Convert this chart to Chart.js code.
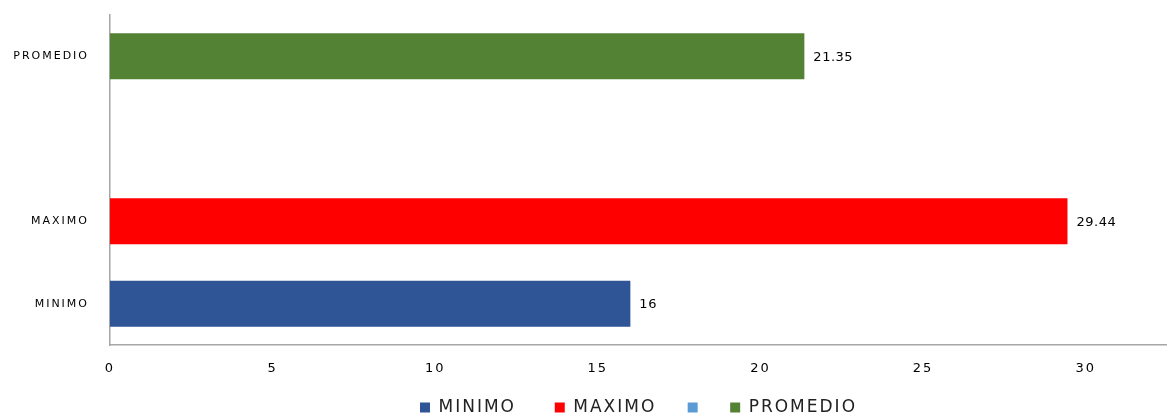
<!DOCTYPE html>
<html>
<head>
<meta charset="utf-8">
<script src="https://cdn.jsdelivr.net/npm/chart.js@4"></script>
<style>
  html, body { margin: 0; padding: 0; background: #fff; }
  #wrap { width: 1167px; height: 417px; }
</style>
</head>
<body>
<div id="wrap"><canvas id="grafico" width="1167" height="417"></canvas></div>
<script>
// categorias (de abajo hacia arriba) y series
const categorias = ['MINIMO', 'MAXIMO', '', 'PROMEDIO'];
const series = ['MINIMO', 'MAXIMO', '', 'PROMEDIO'];
const valores = [16, 29.44, null, 21.35];
const colores = ['#2f5597', '#ff0000', '#5b9bd5', '#548235'];
const ticksX = [0, 5, 10, 15, 20, 25, 30];

// cada serie ocupa solo su propia categoria
const datasets = series.map((nombre, i) => ({
    label: nombre,
    data: categorias.map((c, j) => (j === i ? valores[i] : null)),
    backgroundColor: colores[i],
    borderWidth: 0,
    grouped: false,
    categoryPercentage: 1,
    barPercentage: 0.56
}));

// texto algo espaciado, como en la hoja original
const espaciado = {
    id: 'espaciado',
    beforeUpdate(chart) { chart.ctx.letterSpacing = '2px'; },
    beforeDraw(chart) { chart.ctx.letterSpacing = '2px'; }
};

// etiquetas de valor al final de cada barra
const etiquetasValor = {
    id: 'etiquetasValor',
    afterDatasetsDraw(chart) {
        const ctx = chart.ctx;
        ctx.save();
        ctx.letterSpacing = '0.5px';
        ctx.font = '13px "DejaVu Sans"';
        ctx.fillStyle = '#000';
        ctx.textAlign = 'left';
        ctx.textBaseline = 'middle';
        chart.data.datasets.forEach((ds, i) => {
            const meta = chart.getDatasetMeta(i);
            ds.data.forEach((v, j) => {
                if (v === null) return;
                const bar = meta.data[j];
                ctx.fillText(String(v), bar.x + 9, bar.y + 1);
            });
        });
        ctx.restore();
    }
};

// espacios extra tras cada texto de la leyenda para separar los items
const huecoLeyenda = [2, 1, 0, 0];

new Chart(document.getElementById('grafico'), {
    type: 'bar',
    data: { labels: categorias, datasets: datasets },
    options: {
        indexAxis: 'y',
        responsive: false,
        animation: false,
        layout: { padding: { top: 15, right: 0, left: 0, bottom: -9 } },
        scales: {
            x: {
                min: 0,
                max: 32.5,
                afterFit(scale) { scale.height = 30; },
                afterBuildTicks(scale) {
                    scale.ticks = ticksX.map(v => ({ value: v }));
                },
                grid: { display: false, drawTicks: false },
                border: { display: true, color: '#a6a6a6', width: 1.5 },
                ticks: {
                    padding: 16,
                    color: '#000',
                    font: { family: 'DejaVu Sans', size: 13 }
                }
            },
            y: {
                reverse: true,
                afterFit(scale) {
                    scale.width = 110;
                    // sin margen extra arriba/abajo por las etiquetas
                    scale.paddingTop = 0;
                    scale.paddingBottom = 0;
                },
                grid: { display: false, drawTicks: false },
                border: { display: true, color: '#a6a6a6', width: 1.5 },
                ticks: {
                    padding: 21,
                    color: '#000',
                    font: { family: 'DejaVu Sans', size: 11 }
                }
            }
        },
        plugins: {
            legend: {
                position: 'bottom',
                fullSize: false,
                labels: {
                    boxWidth: 10,
                    boxHeight: 10,
                    padding: 24,
                    color: '#222',
                    font: { family: 'DejaVu Sans', size: 17 },
                    generateLabels(chart) {
                        const items = Chart.defaults.plugins.legend.labels.generateLabels(chart);
                        items.forEach((it, i) => { it.text = it.text + ' '.repeat(huecoLeyenda[i]); });
                        return items;
                    }
                }
            },
            tooltip: { enabled: false }
        }
    },
    plugins: [espaciado, etiquetasValor]
});
</script>
</body>
</html>
